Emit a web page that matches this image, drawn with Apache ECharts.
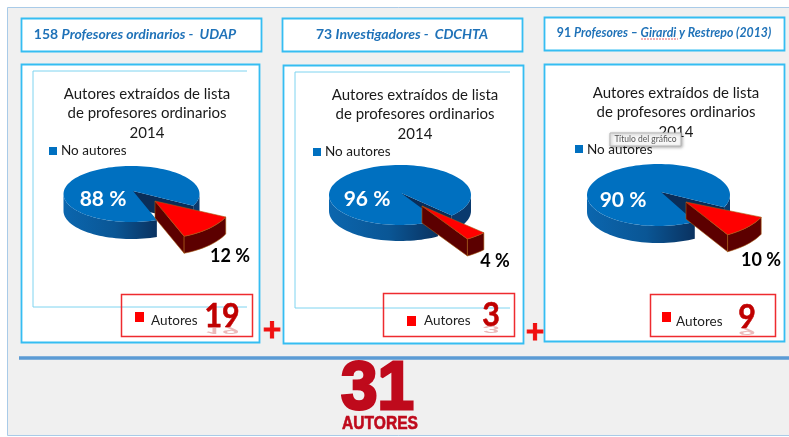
<!DOCTYPE html>
<html><head><meta charset="utf-8">
<style>html,body{margin:0;padding:0;background:#fff}#c{width:789px;height:437px}</style>
<script src="https://cdn.jsdelivr.net/npm/echarts@6/dist/echarts.min.js"></script></head>
<body><div id="c"></div>
<script>
// ---- data ----
const categories = ['No autores', 'Autores'];
const percentsUDAP = [88, 12];
const percentsCDCHTA = [96, 4];
const percentsGirardi = [90, 10];
const authorCounts = ['19', '3', '9'];
const totalAuthors = '31';
const totalLabel = 'AUTORES';
const chartTitleLines = ['Autores extraídos de lista', 'de profesores ordinarios', '2014'];
const tooltipText = 'Título del gráfico';

// ---- layout ----
const FONT = 'Lato, "Open Sans", sans-serif';
const BLUE = '#0070c0', RED = '#ff0000', DARKRED = '#c00000', HEAD = '#1f72b8', CYAN = '#35bdf2';
const layouts = [
 {data: percentsUDAP, cx:131.5, cy:194, rx:68, ry:28, depth:17, apex:[133,191], mid:46.5,
  rApex:[155,201], rrx:78, rry:38, rDepth:17, lab1:[103,199], lab2:[230,256],
  panel:[21,64,238,278], head:[21,18,240,33], inner:[33,71,247,307],
  titleX:147, titleY:[94,113,133], sq1:[49,147], tx1:[61,151],
  box:[121,294,131,42], sq2:[135,312], tx2:[151,321], num:[222,316],
  headText:'{a|158 }{b|Profesores ordinarios -  UDAP}', headX:135},
 {data: percentsCDCHTA, cx:400, cy:195, rx:71, ry:30, depth:16, apex:[401,193], mid:50.5,
  rApex:[422,206], rrx:85, rry:39, rDepth:17, lab1:[367,199], lab2:[495,261],
  panel:[283,65,240,278], head:[282,18,240,33], inner:[295,72,510,308],
  titleX:415, titleY:[95,114,134], sq1:[313,148], tx1:[325,152],
  box:[383,293,131,43], sq2:[407,316], tx2:[424,321], num:[491,315],
  headText:'{a|73 }{b|Investigadores -  CDCHTA}', headX:402},
 {data: percentsGirardi, cx:658.5, cy:195, rx:71.5, ry:31, depth:17, apex:[661,192], mid:41.5,
  rApex:[686,202], rrx:82, rry:38, rDepth:17, lab1:[623,200], lab2:[761,260],
  panel:[544,64,240,277], head:[544,17,240,33], inner:null,
  titleX:676, titleY:[93,112,132], sq1:[575,145], tx1:[587,150],
  box:[650,294,125,42], sq2:[662,312], tx2:[676,322], num:[747,317],
  headText:'{a|91 }{b|Profesores – Girardi y Restrepo (2013)}', headX:664}
];

// ---- elliptical 3D pie drawn from the values ----
function rad(d){return d*Math.PI/180;}
function arc(c,rx,ry,a,b,dy){
  const pts=[], n=Math.max(2,Math.ceil(Math.abs(b-a)/3));
  for(let i=0;i<=n;i++){const t=rad(a+(b-a)*i/n);pts.push([c[0]+rx*Math.cos(t),c[1]+ry*Math.sin(t)+(dy||0)]);}
  return pts;
}
function poly(points,fill,extra){
  return {type:'polygon',shape:{points},style:Object.assign({fill},extra||{})};
}
const sideGrad = {type:'linear',x:0,y:0,x2:1,y2:0,colorStops:[{offset:0,color:'#0b66ae'},{offset:.55,color:'#0a5695'},{offset:1,color:'#0a3260'}]};
function renderPie(params,api){
  const L=layouts[params.seriesIndex], v=api.value(0), total=L.data[0]+L.data[1];
  const span=L.data[1]/total*360, a1=L.mid-span/2, a2=L.mid+span/2;
  const kids=[];
  const label=(p,t,fill,size)=>({type:'text',x:p[0],y:p[1],style:{text:t,fill,font:'bold '+size+'px '+FONT,align:'center',verticalAlign:'middle'}});
  if(params.dataIndex===0){
    const c=[L.cx,L.cy], e=arc(c,L.rx,L.ry,a1,a1,0)[0];
    kids.push(poly([L.apex,e,[e[0],e[1]+L.depth],[L.apex[0],L.apex[1]+L.depth]],'#0a2d58'));
    const s1=arc(c,L.rx,L.ry,a2,180,0), s1b=arc(c,L.rx,L.ry,180,a2,L.depth);
    kids.push(poly(s1.concat(s1b),sideGrad));
    const s2=arc(c,L.rx,L.ry,0,a1,0), s2b=arc(c,L.rx,L.ry,a1,0,L.depth);
    kids.push(poly(s2.concat(s2b),'#0a3a6e'));
    kids.push(poly([L.apex].concat(arc(c,L.rx,L.ry,a2,a1+360,0)),BLUE));
    kids.push(label(L.lab1,v+' %','#fff',21));
  } else {
    const c=L.rApex, top=arc(c,L.rrx,L.rry,a1,a2,0), D=L.rDepth, e2=top[top.length-1];
    const edge={stroke:'#a85a10',lineWidth:.6};
    kids.push(poly([c,e2,[e2[0],e2[1]+D],[c[0],c[1]+D]],'#5c0000',edge));
    kids.push(poly(top.concat(arc(c,L.rrx,L.rry,a2,a1,D)),'#5c0000',edge));
    kids.push(poly([c].concat(top),RED,edge));
    kids.push(label(L.lab2,v+' %','#000',18));
  }
  return {type:'group',children:kids};
}

// ---- panels, headings, legends ----
const g=[];
const rect=(x,y,w,h,style,z)=>g.push({type:'rect',silent:true,z:z||0,shape:{x,y,width:w,height:h},style});
const line=(x1,y1,x2,y2,stroke,w,z,dash)=>g.push({type:'line',silent:true,z:z||1,shape:{x1,y1,x2,y2},style:{stroke,lineWidth:w,lineDash:dash||null}});
const text=(x,y,t,font,fill,align,z,extra,stroke,sw)=>g.push(Object.assign({type:'text',silent:true,z:z||5,x,y,style:Object.assign({text:t,font,fill,align:align||'left',verticalAlign:'middle'},stroke?{stroke,lineWidth:sw}:{})},extra||{}));

rect(7.5,7.5,800,428,{fill:'#f0f0f0',stroke:'#a9cbe8',lineWidth:1});
layouts.forEach((L,i)=>{
  rect(L.head[0]+.5,L.head[1]+.5,L.head[2],L.head[3],{fill:'#fff',stroke:CYAN,lineWidth:1.8},1);
  g.push({type:'text',silent:true,z:5,x:L.headX,y:L.head[1]+16,style:{text:L.headText,align:'center',verticalAlign:'middle',
    rich:{a:{font:'bold '+(i===2?12.3:14)+'px '+FONT,fill:HEAD},b:{font:'italic bold '+(i===2?12.3:14)+'px '+FONT,fill:HEAD}}}});
  rect(L.panel[0]+.5,L.panel[1]+.5,L.panel[2],L.panel[3],{fill:'#fff',stroke:CYAN,lineWidth:1.8},1);
  if(L.inner){const n=L.inner;
    line(n[0],n[1],n[2],n[1],'#7fd4f0',1,1);
    line(n[0],n[1],n[0],n[3],'#7fd4f0',1,1);
    line(n[0],n[3],n[2],n[3],'#7fd4f0',1,1);
  }
  chartTitleLines.forEach((t,k)=>text(L.titleX,L.titleY[k],t,'15px '+FONT,'#1a1a1a','center',3));
  rect(L.sq1[0],L.sq1[1],8,8,{fill:BLUE},3);
  text(L.tx1[0],L.tx1[1],categories[0],'13.5px '+FONT,'#1a1a1a','left',3);
  rect(L.box[0]+.5,L.box[1]+.5,L.box[2],L.box[3],{fill:'none',stroke:'#ee2b2f',lineWidth:1.5},4);
  rect(L.sq2[0],L.sq2[1],9,10,{fill:RED},4);
  text(L.tx2[0],L.tx2[1],categories[1],'13.5px '+FONT,'#222','left',4);
  text(L.num[0],L.num[1],authorCounts[i],'bold 33px '+FONT,DARKRED,'center',6,{scaleX:.92},DARKRED,.6);
  text(L.num[0],L.num[1]+14,authorCounts[i],'bold 33px '+FONT,'#ecb9b9','center',5,{scaleX:.92,scaleY:-.26});
});
// spell-check squiggle under "Girardi"
line(641,39,678,39,'#e8606a',1,6,[2,1]);
// plus signs
text(272,331,'+','bold 32px '+FONT,'#f01010','center',6,null,'#f01010',1);
text(535,333,'+','bold 32px '+FONT,'#f01010','center',6,null,'#f01010',1);
// tooltip
rect(610,133,71,13,{fill:'#f7f7f7',stroke:'#b5b5b5',lineWidth:1,shadowBlur:3,shadowColor:'rgba(0,0,0,.3)',shadowOffsetX:1,shadowOffsetY:1},8);
text(645.5,139.5,tooltipText,'8.5px '+FONT,'#555','center',9);
// divider and total
line(19,358,789,358,'#5b9bd5',3.5,2);
text(377.5,390,totalAuthors,'bold 69px "Liberation Sans",sans-serif','#bf0a1c','center',6,{scaleX:.95},'#bf0a1c',3);
text(380,424,totalLabel,'bold 19px "Liberation Sans",sans-serif','#bf0a1c','center',6,{scaleX:.82},'#bf0a1c',.6);

const chart=echarts.init(document.getElementById('c'),null,{renderer:'canvas'});
chart.setOption({
  animation:false,
  backgroundColor:'#ffffff',
  tooltip:{show:false},
  graphic:{elements:g},
  series:layouts.map((L,i)=>({
    type:'custom',coordinateSystem:'none',silent:true,z:3,
    name:['UDAP','CDCHTA','Girardi y Restrepo'][i],
    renderItem:renderPie,
    data:L.data.map((v,k)=>({name:categories[k],value:[v]}))
  }))
});
</script></body></html>
